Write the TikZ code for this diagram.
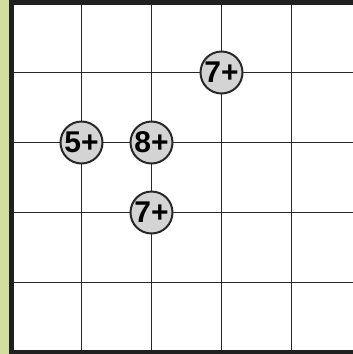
\documentclass[tikz,border=0pt]{standalone}
\usepackage{fontspec}
\setmainfont{Liberation Sans}
\usepackage{tikz}
\usetikzlibrary{positioning}
\definecolor{stripgreen}{RGB}{210, 222, 156}
\definecolor{cluegray}{RGB}{212, 212, 212}
\definecolor{gridink}{RGB}{40, 40, 40}
\newcommand{\cluefont}{\fontsize{30pt}{30pt}\selectfont\bfseries}

\begin{document}
\begin{tikzpicture}[x=1pt, y=-1pt,
        clue/.style={circle, draw=gridink, line width=2pt, fill=cluegray, minimum size=42pt, inner sep=0pt, font=\cluefont}]
        \useasboundingbox (0,0) rectangle (353,354);
        \clip (0,0) rectangle (353,354);

        % Green strip on the left
        \fill[stripgreen] (0,0) rectangle (10,354);

        % Grid lines
        \foreach \k in {1,...,4} {
            \draw[gridink, line width=1.4pt] (11.5+70*\k,2.5) -- (11.5+70*\k,352.5);
            \draw[gridink, line width=1.4pt] (11.5,2.5+70*\k) -- (361.5,2.5+70*\k);
        }

        % Outer frame
        \draw[line width=5pt, color=gridink!80!black] (11.5,2.5) rectangle (361.5,352.5);

        % Clues
        \node[clue] (c1) at (221.5,72.5) {7+};
        \node[clue] (c2) at (81.5,142.5) {5+};
        \node[clue] (c3) at (151.5,142.5) {8+};
        \node[clue] (c4) at (151.5,212.5) {7+};
    \end{tikzpicture}
\end{document}
